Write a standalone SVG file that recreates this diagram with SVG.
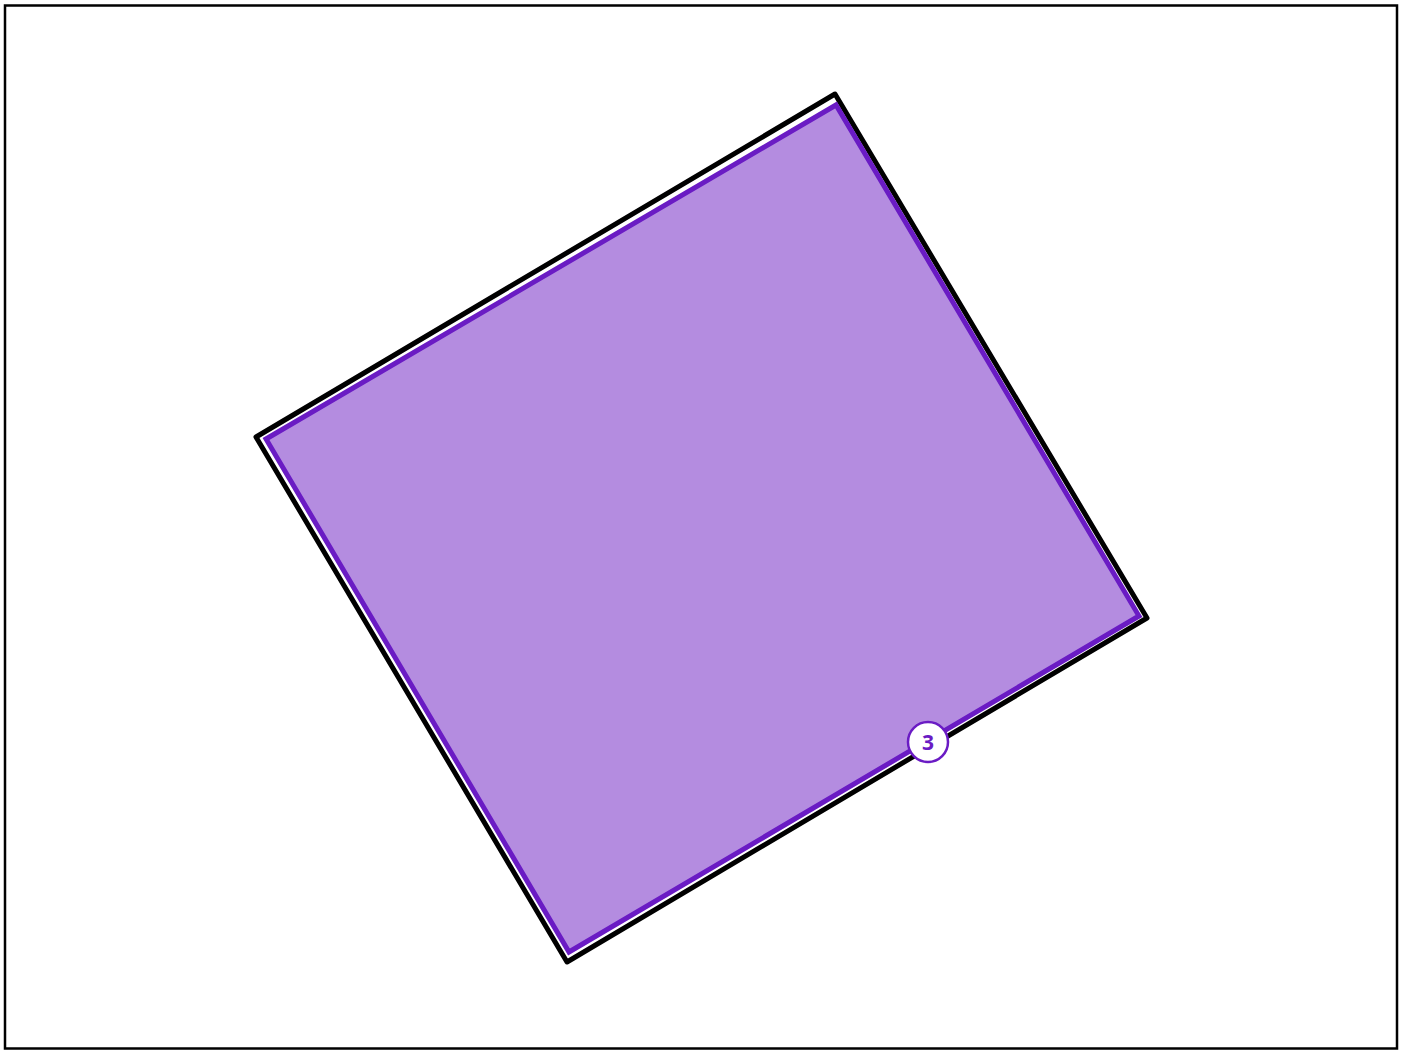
<svg xmlns="http://www.w3.org/2000/svg" width="1406" height="1050" viewBox="0 0 1406 1050">
<style>
.frame{fill:#fff;stroke:#000;stroke-width:2.5}
.outline{fill:none;stroke:#000;stroke-width:5;stroke-linejoin:round}
.region{fill:#b48ce0;stroke:#6a1bc4;stroke-width:5;stroke-linejoin:miter}
.badge{fill:#fff;stroke:#6a1bc4;stroke-width:2.5}
.badge-text{font-family:"Open Sans","DejaVu Sans",sans-serif;font-weight:700;font-size:21px;fill:#6a1bc4;text-anchor:middle}
</style>
<rect class="frame" x="5" y="5.5" width="1392" height="1043"/>
<g id="outline">
<polygon class="outline" points="835,94 256,437 567,962 1147,618"/>
</g>
<g id="region">
<polygon class="region" points="836,105 266,439 569,952 1139,616"/>
</g>
<g id="badge-3">
<circle class="badge" cx="928" cy="742" r="20"/>
<text class="badge-text" x="928" y="749.5">3</text>
</g>
</svg>
